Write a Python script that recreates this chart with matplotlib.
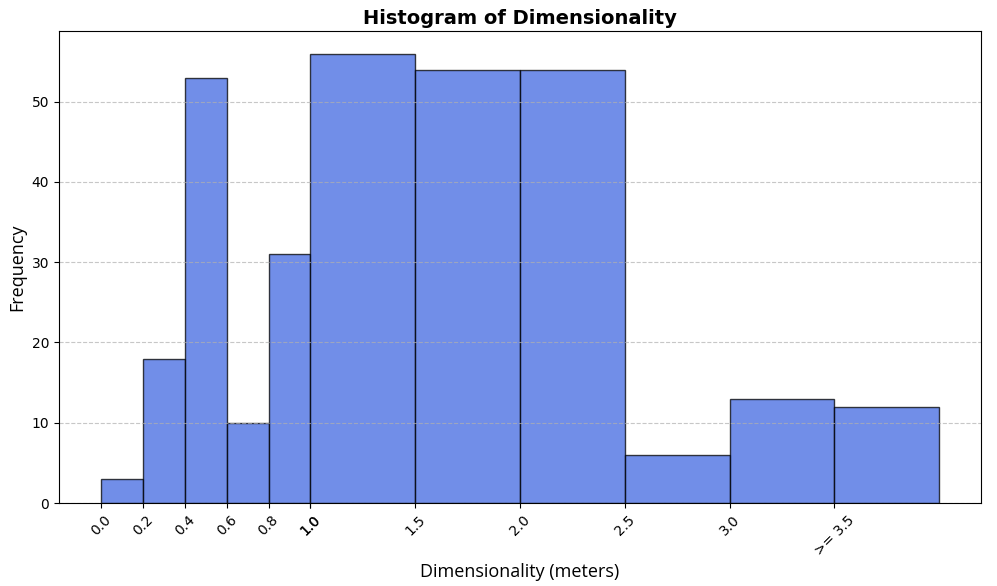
import matplotlib
matplotlib.use("Agg")
import matplotlib.pyplot as plt
import numpy as np

bin_edges = [0.0, 0.2, 0.4, 0.6, 0.8, 1.0, 1.5, 2.0, 2.5, 3.0, 3.5, 4.0]
counts = [3, 18, 53, 10, 31, 56, 54, 54, 6, 13, 12]
tick_positions = [0.0, 0.2, 0.4, 0.6, 0.8, 1.0, 1.0, 1.5, 2.0, 2.5, 3.0, 3.5]
tick_labels = ["0.0", "0.2", "0.4", "0.6", "0.8", "1.0", "1.0", "1.5", "2.0", "2.5", "3.0", ">= 3.5"]

fig = plt.figure(figsize=(9.97, 5.86), dpi=100)
ax = fig.add_axes([0.0592, 0.1416, 0.9248, 0.8054])

ax.hist(bin_edges[:-1], bins=bin_edges, weights=counts,
        color="royalblue", alpha=0.75, edgecolor="black", linewidth=1.0)

ax.set_xticks(tick_positions)
ax.set_xticklabels(tick_labels, rotation=45, fontsize=10)
ax.tick_params(axis="y", labelsize=10)
ax.grid(axis="y", linestyle="--", alpha=0.7)

ax.set_title("Histogram of Dimensionality", fontsize=14, fontweight="bold", pad=5)
ax.set_xlabel("Dimensionality (meters)", fontsize=13, family="Open Sans")
ax.set_ylabel("Frequency", fontsize=13, family="Open Sans")

fig.savefig("out.png", dpi=100)
